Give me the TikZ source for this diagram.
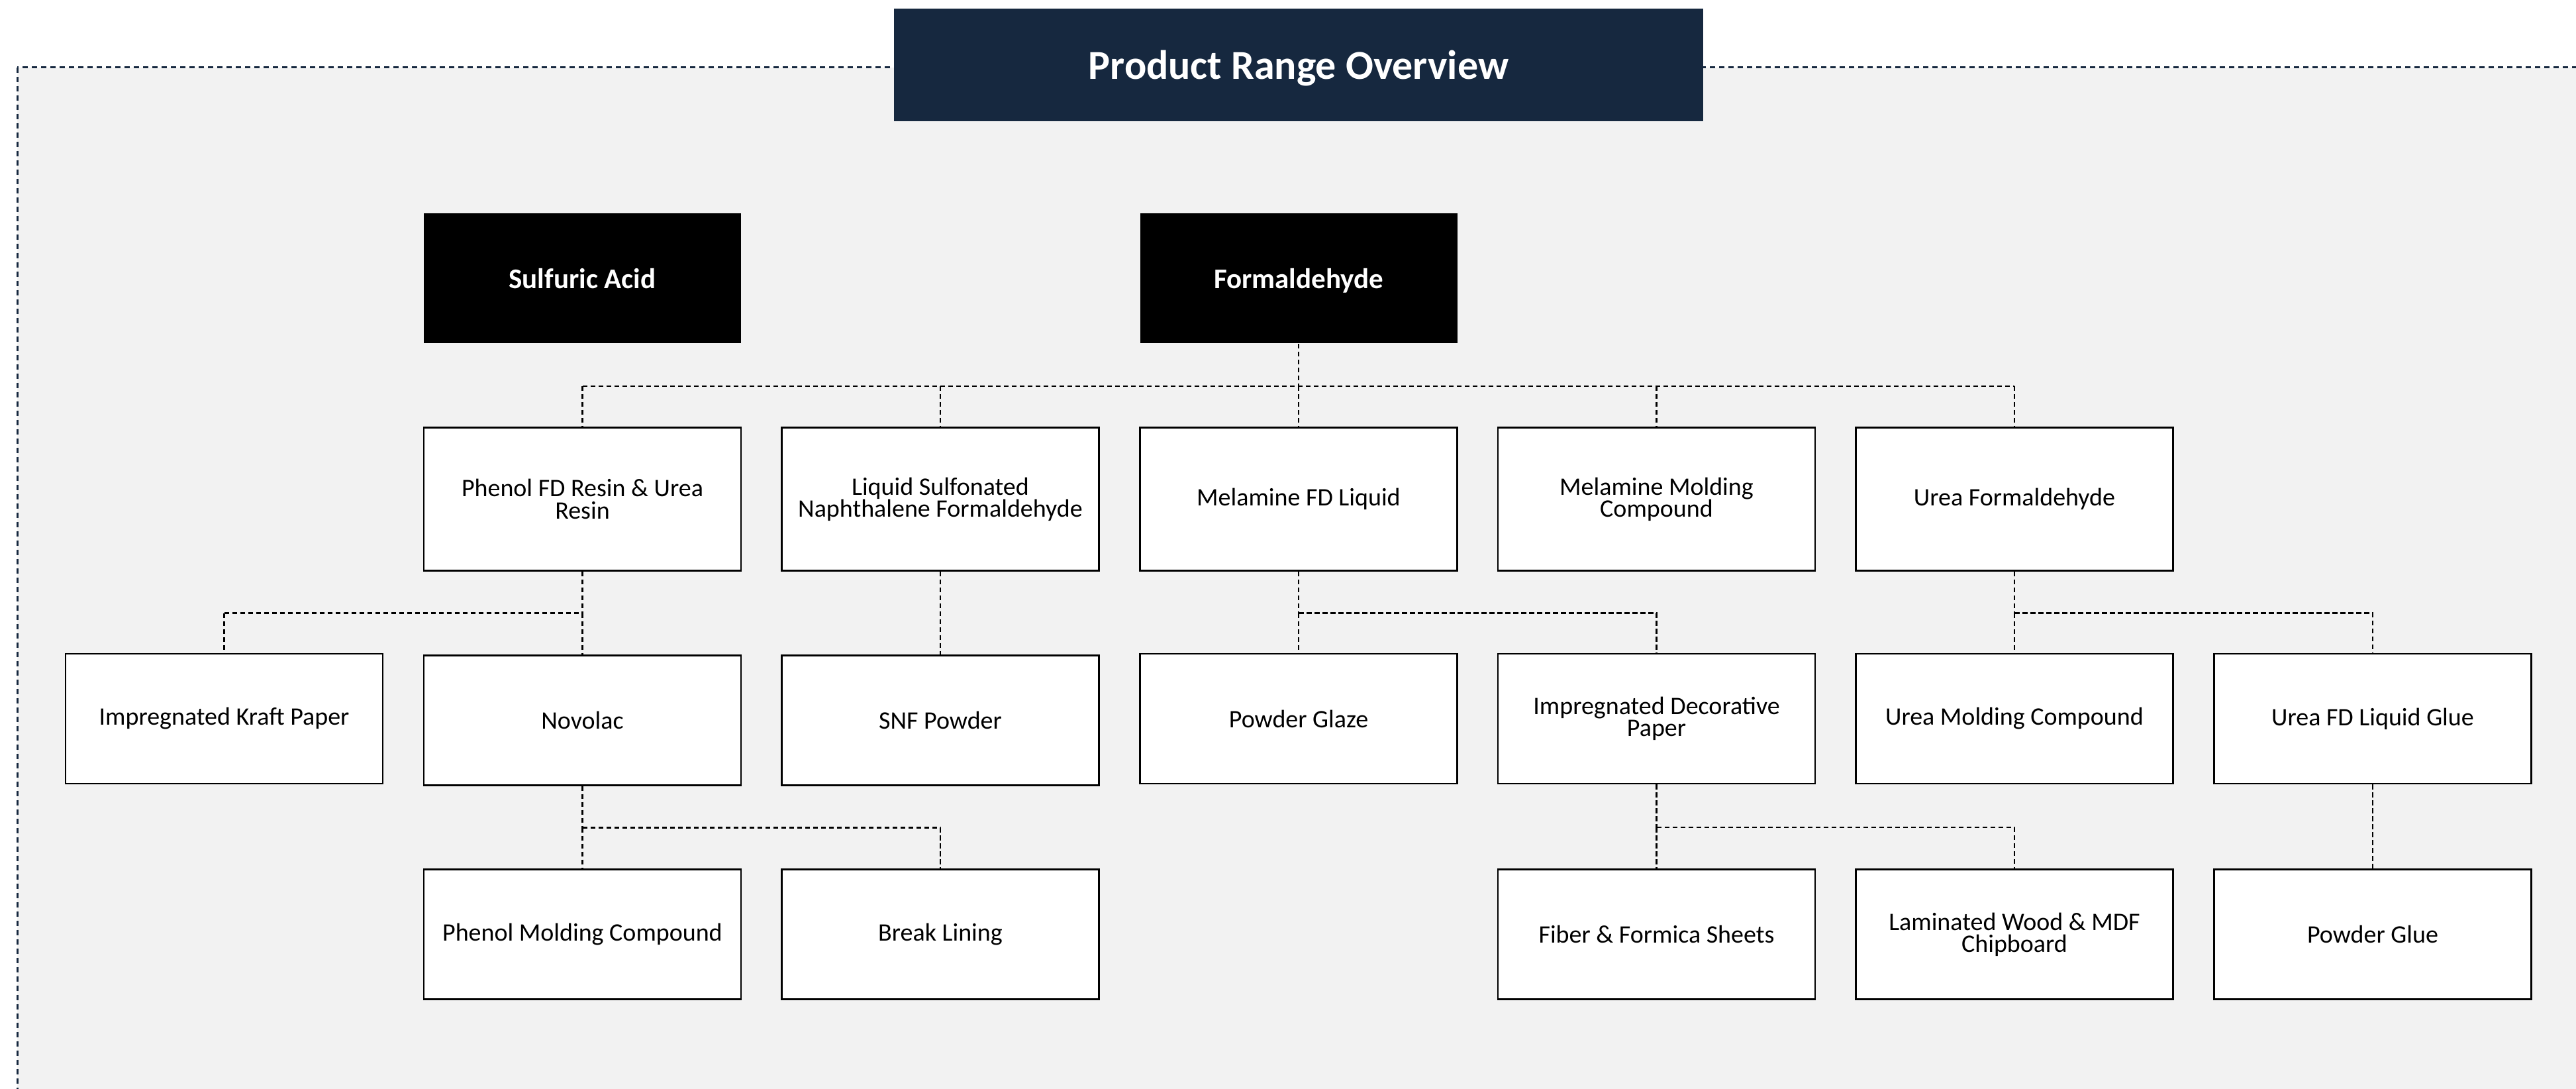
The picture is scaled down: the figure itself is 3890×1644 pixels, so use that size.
\documentclass[tikz,border=0pt]{standalone}
\usepackage{fontspec}
\setmainfont{Carlito}
\definecolor{navy}{HTML}{16283F}
\definecolor{panel}{HTML}{F2F2F2}
\tikzset{
  x=0.25pt, y=-0.25pt,
  prodbox/.style={draw=black, line width=0.6pt, fill=white, minimum width=119.75pt, minimum height=49pt, inner sep=2pt, align=center, font=\fontsize{9.5}{8.3}\selectfont},
  tallbox/.style={prodbox, minimum height=54pt},
  rootbox/.style={fill=black, text=white, minimum width=119.75pt, minimum height=49pt, text depth=0pt, align=center, font=\fontsize{10.75}{12}\selectfont\bfseries},
  conn/.style={draw=black, line width=0.6pt, dash pattern=on 1.9pt off 1.1pt},
}
\begin{document}
\begin{tikzpicture}
\useasboundingbox (0,0) rectangle (3890,1644);
\clip (0,0) rectangle (3890,1644);
% panel
\path[fill=panel, draw=navy, line width=0.75pt, dash pattern=on 2pt off 1.5pt] (26,102) rectangle (3960,1720);
% title
\node[fill=navy, minimum width=305.5pt, minimum height=42.5pt, text depth=0pt, text=white, font=\fontsize{15.5}{18}\selectfont\bfseries] (title) at (1961,98) {Product Range Overview};
% row 1
\node[rootbox] (sulf) at (879.5,420) {Sulfuric Acid};
\node[rootbox] (formal) at (1961,420) {Formaldehyde};
% row 2
\node[tallbox] (phenol) at (879.5,753.5) {Phenol FD Resin \& Urea\\Resin};
\node[tallbox] (lsnf) at (1420,753.5) {Liquid Sulfonated\\Naphthalene Formaldehyde};
\node[tallbox] (melfd) at (1961,753.5) {Melamine FD Liquid};
\node[tallbox] (melmc) at (2501.5,753.5) {Melamine Molding\\Compound};
\node[tallbox] (ureaf) at (3042,753.5) {Urea Formaldehyde};
% row 3
\node[prodbox] (kraft) at (338.5,1085) {Impregnated Kraft Paper};
\node[prodbox] (novolac) at (879.5,1087.5) {Novolac};
\node[prodbox] (snf) at (1420,1087.5) {SNF Powder};
\node[prodbox] (glaze) at (1961,1085) {Powder Glaze};
\node[prodbox] (decor) at (2501.5,1085) {Impregnated Decorative\\Paper};
\node[prodbox] (ureamc) at (3042,1085) {Urea Molding Compound};
\node[prodbox] (ureaglue) at (3583,1085) {Urea FD Liquid Glue};
% row 4
\node[prodbox] (phenolmc) at (879.5,1410.5) {Phenol Molding Compound};
\node[prodbox] (brake) at (1420,1410.5) {Break Lining};
\node[prodbox] (fiber) at (2501.5,1410.5) {Fiber \& Formica Sheets};
\node[prodbox] (lamwood) at (3042,1410.5) {Laminated Wood \& MDF\\Chipboard};
\node[prodbox] (pglue) at (3583,1410.5) {Powder Glue};
% connectors: Formaldehyde
\draw[conn] (formal.south) -- ++(0,64) coordinate (b1);
\draw[conn] (phenol.north |- b1) -- (ureaf.north |- b1);
\foreach \n in {phenol,lsnf,melfd,melmc,ureaf} \draw[conn] (\n.north |- b1) -- (\n.north);
% Phenol
\draw[conn] (phenol.south) -- ++(0,63) coordinate (b2);
\draw[conn] (kraft.north |- b2) -- (b2);
\draw[conn] (kraft.north |- b2) -- (kraft.north);
\draw[conn] (b2) -- (novolac.north);
% LSNF
\draw[conn] (lsnf.south) -- (snf.north);
% Melamine FD
\draw[conn] (melfd.south) -- ++(0,63) coordinate (b3);
\draw[conn] (b3) -- (decor.north |- b3) -- (decor.north);
\draw[conn] (b3) -- (glaze.north);
% Urea Formaldehyde
\draw[conn] (ureaf.south) -- ++(0,63) coordinate (b4);
\draw[conn] (b4) -- (ureaglue.north |- b4) -- (ureaglue.north);
\draw[conn] (b4) -- (ureamc.north);
% Novolac
\draw[conn] (novolac.south) -- ++(0,63) coordinate (b5);
\draw[conn] (b5) -- (brake.north |- b5) -- (brake.north);
\draw[conn] (b5) -- (phenolmc.north);
% Decorative paper
\draw[conn] (decor.south) -- ++(0,65) coordinate (b6);
\draw[conn] (b6) -- (lamwood.north |- b6) -- (lamwood.north);
\draw[conn] (b6) -- (fiber.north);
% Urea glue
\draw[conn] (ureaglue.south) -- (pglue.north);
\end{tikzpicture}
\end{document}
